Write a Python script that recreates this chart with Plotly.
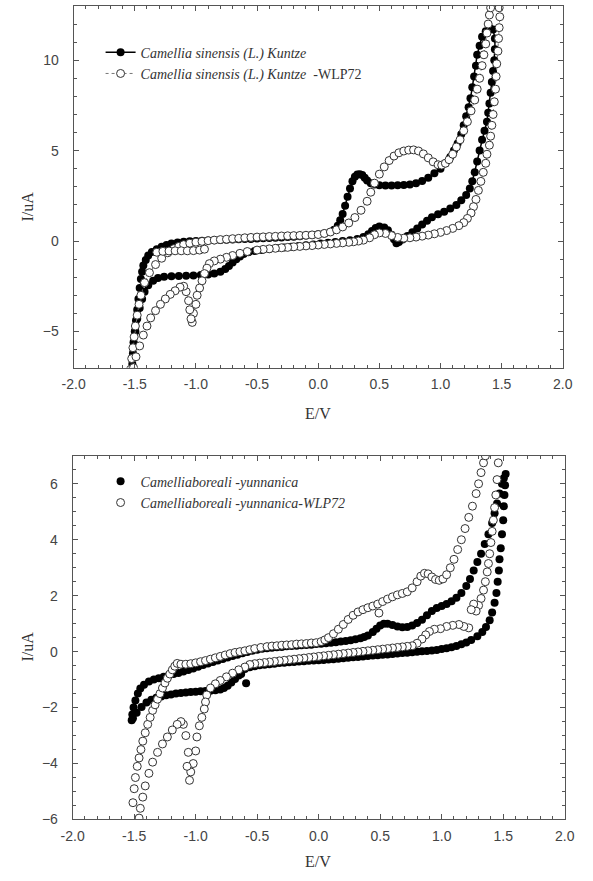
import plotly.graph_objects as go

# ---------------- data: (E/V, I/uA) pairs along each scan ----------------
# Top panel: Camellia sinensis (L.) Kuntze  (filled)
top_a = [(-1.52,-6.8),(-1.515,-6.2),(-1.51,-5.6),(-1.50,-5.0),(-1.49,-4.4),(-1.48,-3.8),(-1.47,-3.2),(-1.46,-2.6),
         (-1.45,-2.1),(-1.44,-1.7),(-1.43,-1.35),(-1.41,-1.05),(-1.39,-0.8),(-1.36,-0.6),(-1.32,-0.45),(-1.28,-0.32),
         (-1.24,-0.22),(-1.2,-0.14),(-1.15,-0.08),(-1.1,-0.04),(-1.05,-0.01),(-1.0,0.0),(-0.95,0.02),(-0.9,0.03),
         (-0.85,0.05),(-0.8,0.06),(-0.75,0.07),(-0.7,0.09),(-0.65,0.1),(-0.6,0.11),(-0.55,0.12),(-0.5,0.14),
         (-0.45,0.15),(-0.4,0.17),(-0.35,0.18),(-0.3,0.2),(-0.25,0.22),(-0.2,0.24),(-0.15,0.27),(-0.1,0.3),
         (-0.05,0.33),(0.0,0.37),(0.05,0.42),(0.1,0.5),(0.13,0.62),(0.16,0.85),(0.18,1.15),(0.2,1.5),(0.22,1.95),
         (0.24,2.45),(0.26,2.9),(0.28,3.3),(0.3,3.55),(0.32,3.68),(0.34,3.7),(0.36,3.65),(0.38,3.5),(0.4,3.35),
         (0.43,3.2),(0.46,3.12),(0.5,3.08),(0.55,3.07),(0.6,3.07),(0.65,3.08),(0.7,3.1),(0.75,3.13),(0.8,3.2),
         (0.85,3.32),(0.9,3.5),(0.95,3.75),(1.0,4.0),(1.04,4.3),(1.08,4.65),(1.11,5.0),(1.14,5.4),(1.17,5.9),
         (1.19,6.4),(1.21,6.9),(1.23,7.4),(1.245,7.9),(1.26,8.5),(1.275,9.1),(1.29,9.7),(1.3,10.3),(1.32,10.8),
         (1.34,11.3),(1.37,11.6),(1.40,11.8),
         (1.43,11.7),(1.445,11.2),(1.445,10.6),(1.44,10.0),(1.43,9.4),(1.42,8.8),(1.41,8.2),(1.40,7.6),(1.39,7.1),
         (1.38,6.6),(1.36,6.1),(1.34,5.6),(1.32,5.0),(1.30,4.4),(1.28,3.8),(1.26,3.3),(1.24,2.9),(1.21,2.55),
         (1.17,2.25),(1.13,2.0),(1.08,1.8),(1.03,1.62),(0.98,1.48),(0.93,1.32),(0.89,1.12),(0.85,0.92),(0.81,0.7),
         (0.77,0.48),(0.73,0.28),(0.69,0.08),(0.66,-0.05),(0.64,-0.12),(0.62,0.1),(0.6,0.35),(0.57,0.6),(0.54,0.75),
         (0.5,0.8),(0.47,0.72),(0.44,0.55),(0.41,0.38),(0.37,0.22),(0.32,0.12),(0.26,0.05),(0.2,0.0),(0.14,-0.05),
         (0.08,-0.1),(0.02,-0.14),(-0.04,-0.19),(-0.1,-0.23),(-0.16,-0.27),(-0.22,-0.31),(-0.28,-0.35),(-0.34,-0.39),
         (-0.4,-0.44),(-0.46,-0.49),(-0.52,-0.55),(-0.57,-0.62),(-0.61,-0.72),(-0.64,-0.85),(-0.67,-1.0),(-0.7,-1.18),
         (-0.73,-1.38),(-0.76,-1.55),(-0.8,-1.7),(-0.85,-1.8),(-0.9,-1.85),(-0.96,-1.88),(-1.02,-1.9),(-1.08,-1.92),
         (-1.14,-1.93),(-1.2,-1.95),(-1.26,-1.98),(-1.31,-2.05),(-1.35,-2.2),(-1.39,-2.45),(-1.42,-2.8),(-1.44,-3.2),
         (-1.46,-3.7),(-1.48,-4.3),(-1.495,-5.0),(-1.505,-5.7),(-1.515,-6.4),(-1.525,-7.1)]

# Top panel: Camellia sinensis (L.) Kuntze -WLP72 (open); None breaks the dotted line
top_b = [(-1.535,-7.1),(-1.525,-6.5),(-1.515,-5.9),(-1.505,-5.3),(-1.495,-4.7),(-1.48,-4.1),(-1.465,-3.5),(-1.45,-3.0),
         (-1.42,-2.3),(-1.38,-1.75),(-1.33,-1.3),(-1.28,-0.95),(-1.23,-0.65),(-1.18,-0.42),(-1.14,-0.3),(-1.1,-0.2),
         (-1.05,-0.12),(-1.0,-0.06),(-0.95,-0.02),(-0.9,0.02),(-0.85,0.05),(-0.8,0.08),(-0.75,0.1),(-0.7,0.13),
         (-0.65,0.15),(-0.6,0.18),(-0.55,0.2),(-0.5,0.22),(-0.45,0.23),(-0.4,0.25),(-0.35,0.26),(-0.3,0.28),
         (-0.25,0.29),(-0.2,0.3),(-0.15,0.31),(-0.1,0.32),(-0.05,0.34),(0.0,0.36),(0.05,0.42),(0.1,0.5),(0.15,0.62),
         (0.2,0.78),(0.25,1.0),(0.3,1.3),(0.35,1.7),(0.4,2.2),(0.43,2.7),(0.46,3.2),(0.5,3.7),(0.54,4.1),(0.58,4.45),
         (0.62,4.7),(0.66,4.88),(0.7,4.98),(0.74,5.03),(0.78,5.04),(0.82,4.98),(0.86,4.82),(0.9,4.6),(0.94,4.38),
         (0.98,4.22),(1.01,4.2),(1.04,4.3),(1.07,4.5),(1.1,4.8),(1.13,5.2),(1.16,5.6),(1.19,6.1),(1.22,6.6),(1.25,7.2),
         (1.28,7.8),(1.3,8.4),(1.32,9.0),(1.34,9.7),(1.355,10.3),(1.37,10.9),(1.38,11.5),(1.39,12.0),(1.4,12.5),(1.41,12.9),
         (1.48,12.9),(1.485,12.4),(1.48,11.8),(1.475,11.2),(1.47,10.5),(1.46,9.8),(1.455,9.1),(1.45,8.4),(1.44,7.7),
         (1.43,7.0),(1.42,6.4),(1.41,5.8),(1.40,5.3),(1.38,4.8),(1.37,4.3),(1.35,3.8),(1.33,3.3),(1.31,2.8),(1.29,2.3),
         (1.27,1.9),(1.25,1.55),(1.22,1.25),(1.19,1.02),(1.15,0.85),(1.1,0.7),(1.05,0.58),(1.0,0.48),(0.95,0.4),
         (0.9,0.33),(0.85,0.27),(0.8,0.22),(0.75,0.18),(0.7,0.16),(0.65,0.2),(0.6,0.3),(0.55,0.42),(0.5,0.45),
         (0.46,0.35),(0.42,0.18),(0.37,0.05),(0.33,0.0),(0.29,-0.04),(0.25,-0.07),(0.2,-0.1),(0.15,-0.13),(0.1,-0.16),
         (0.05,-0.19),(0.0,-0.22),(-0.05,-0.25),(-0.1,-0.27),(-0.15,-0.3),(-0.2,-0.32),(-0.25,-0.35),(-0.3,-0.37),
         (-0.35,-0.4),(-0.4,-0.43),(-0.45,-0.46),(-0.5,-0.5),(-0.58,-0.58),(-0.64,-0.68),(-0.7,-0.8),(-0.75,-0.9),
         (-0.8,-1.0),(-0.85,-1.1),(-0.89,-1.25),(-0.91,-1.5),(-0.93,-1.8),(-0.95,-2.2),(-0.97,-2.6),(-0.99,-3.0),
         (-1.0,-3.5),(-1.02,-4.0),(-1.03,-4.5),(-1.04,-4.3),(-1.05,-3.8),(-1.06,-3.3),(-1.08,-2.8),(-1.1,-2.5),
         (-1.13,-2.55),(-1.17,-2.75),(-1.21,-2.95),(-1.25,-3.2),(-1.29,-3.5),(-1.33,-3.85),(-1.37,-4.25),(-1.4,-4.7),
         (-1.43,-5.2),(-1.46,-5.8),(-1.49,-6.4),(-1.51,-7.0),
         (None,None),(-1.32,-0.62),(-1.27,-0.57),(-1.22,-0.55),(-1.17,-0.54),(-1.12,-0.54),(-1.07,-0.54),(-1.02,-0.53),
         (-0.97,-0.5),(-0.93,-0.45)]

# Bottom panel: Camelliaboreali -yunnanica (filled)
bot_c = [(-1.52,-2.45),(-1.515,-2.25),(-1.505,-2.0),(-1.49,-1.75),(-1.47,-1.5),(-1.45,-1.32),(-1.42,-1.18),(-1.38,-1.07),
         (-1.34,-1.0),(-1.3,-0.95),(-1.26,-0.9),(-1.22,-0.85),(-1.18,-0.8),(-1.14,-0.76),(-1.1,-0.71),(-1.06,-0.66),
         (-1.02,-0.6),(-0.98,-0.54),(-0.94,-0.48),(-0.9,-0.42),(-0.86,-0.37),(-0.82,-0.32),(-0.78,-0.26),(-0.74,-0.21),
         (-0.7,-0.16),(-0.66,-0.11),(-0.62,-0.06),(-0.58,-0.01),(-0.54,0.03),(-0.5,0.07),(-0.46,0.1),(-0.42,0.12),
         (-0.38,0.14),(-0.34,0.16),(-0.3,0.17),(-0.26,0.19),(-0.22,0.2),(-0.18,0.21),(-0.14,0.23),(-0.1,0.24),
         (-0.06,0.25),(-0.02,0.27),(0.02,0.28),(0.06,0.3),(0.1,0.32),(0.14,0.34),(0.18,0.36),(0.22,0.38),(0.26,0.41),
         (0.3,0.44),(0.34,0.48),(0.37,0.52),(0.4,0.58),(0.44,0.7),(0.47,0.82),(0.5,0.93),(0.53,1.0),(0.56,1.0),
         (0.6,0.95),(0.64,0.9),(0.68,0.87),(0.72,0.88),(0.76,0.93),(0.8,1.02),(0.84,1.14),(0.88,1.3),(0.92,1.45),
         (0.96,1.56),(1.0,1.63),(1.04,1.7),(1.08,1.8),(1.12,1.93),(1.16,2.1),(1.2,2.35),(1.23,2.6),(1.26,2.9),
         (1.29,3.2),(1.32,3.5),(1.35,3.85),(1.38,4.2),(1.41,4.6),(1.43,4.95),(1.45,5.3),(1.47,5.65),(1.49,6.0),
         (1.505,6.2),(1.52,6.35),
         (1.515,5.95),(1.51,5.6),(1.505,5.2),(1.5,4.7),(1.49,4.2),(1.48,3.7),(1.47,3.3),(1.465,2.9),(1.455,2.5),
         (1.445,2.1),(1.43,1.75),(1.41,1.4),(1.39,1.12),(1.36,0.88),(1.33,0.7),(1.29,0.55),(1.24,0.42),(1.2,0.33),
         (1.16,0.26),(1.12,0.2),(1.08,0.16),(1.04,0.12),(1.0,0.09),(0.96,0.06),(0.92,0.04),(0.88,0.02),(0.84,0.01),
         (0.8,0.0),(0.76,-0.02),(0.72,-0.04),(0.68,-0.05),(0.64,-0.07),(0.6,-0.08),(0.56,-0.1),(0.52,-0.11),
         (0.48,-0.13),(0.44,-0.14),(0.4,-0.16),(0.36,-0.17),(0.32,-0.19),(0.28,-0.2),(0.24,-0.22),(0.2,-0.24),
         (0.16,-0.25),(0.12,-0.27),(0.08,-0.28),(0.04,-0.3),(0.0,-0.31),(-0.04,-0.32),(-0.08,-0.33),(-0.12,-0.34),
         (-0.16,-0.35),(-0.2,-0.37),(-0.24,-0.38),(-0.28,-0.4),(-0.32,-0.41),(-0.36,-0.43),(-0.4,-0.45),(-0.44,-0.47),
         (-0.48,-0.49),(-0.52,-0.52),(-0.56,-0.56),(-0.6,-0.62),(-0.59,-1.13),(-0.63,-0.8),(-0.65,-0.85),(-0.68,-0.98),
         (-0.71,-1.1),(-0.74,-1.22),(-0.77,-1.3),(-0.8,-1.35),(-0.84,-1.38),(-0.88,-1.4),(-0.92,-1.41),(-0.96,-1.42),
         (-1.0,-1.43),(-1.04,-1.44),(-1.08,-1.46),(-1.12,-1.48),(-1.16,-1.5),(-1.2,-1.53),(-1.24,-1.56),(-1.28,-1.6),
         (-1.32,-1.65),(-1.36,-1.72),(-1.4,-1.82),(-1.44,-1.98),(-1.48,-2.18),(-1.51,-2.38)]

# Bottom panel: Camelliaboreali -yunnanica-WLP72 (open)
bot_d = [(-1.51,-5.4),(-1.5,-4.9),(-1.49,-4.5),(-1.475,-4.1),(-1.46,-3.8),(-1.445,-3.5),(-1.43,-3.2),(-1.41,-2.9),
         (-1.39,-2.6),(-1.37,-2.35),(-1.35,-2.1),(-1.33,-1.9),(-1.31,-1.7),(-1.29,-1.5),(-1.27,-1.3),(-1.25,-1.12),
         (-1.23,-0.95),(-1.21,-0.8),(-1.19,-0.65),(-1.17,-0.52),(-1.15,-0.42),(-1.12,-0.45),(-1.08,-0.45),
         (-1.04,-0.43),(-1.0,-0.4),(-0.96,-0.36),(-0.92,-0.32),(-0.88,-0.27),(-0.84,-0.22),(-0.8,-0.17),(-0.76,-0.12),
         (-0.72,-0.07),(-0.68,-0.03),(-0.64,0.0),(-0.6,0.03),(-0.56,0.07),(-0.52,0.11),(-0.47,0.15),(-0.42,0.18),
         (-0.38,0.2),(-0.34,0.21),(-0.3,0.23),(-0.26,0.24),(-0.22,0.25),(-0.18,0.27),(-0.14,0.28),(-0.1,0.29),
         (-0.06,0.31),(-0.02,0.32),(0.02,0.36),(0.05,0.42),(0.08,0.5),(0.12,0.64),(0.16,0.8),(0.2,0.97),(0.24,1.15),
         (0.28,1.3),(0.32,1.42),(0.36,1.5),(0.4,1.57),(0.44,1.63),(0.48,1.7),(0.52,1.79),(0.56,1.88),(0.6,1.96),
         (0.64,2.03),(0.68,2.08),(0.72,2.14),(0.76,2.28),(0.8,2.5),(0.83,2.7),(0.86,2.8),(0.89,2.78),(0.92,2.67),
         (0.95,2.58),(0.98,2.55),(1.01,2.6),(1.04,2.75),(1.07,3.0),(1.1,3.3),(1.13,3.65),(1.16,4.0),(1.19,4.4),
         (1.22,4.8),(1.25,5.2),(1.28,5.65),(1.3,6.0),(1.32,6.4),(1.34,6.75),(1.355,7.0),
         (1.46,6.75),(1.45,6.15),(1.44,5.6),(1.43,5.15),(1.42,4.7),(1.41,4.3),(1.4,3.9),(1.39,3.5),(1.38,3.15),
         (1.37,2.85),(1.355,2.5),(1.34,2.2),(1.32,1.9),(1.3,1.65),(1.28,1.45),(1.26,1.7),(1.24,1.5),(1.22,0.85),
         (1.18,0.9),(1.14,0.97),(1.09,0.94),(1.04,0.9),(0.99,0.82),(0.94,0.8),(0.9,0.72),(0.87,0.6),(0.84,0.45),
         (0.8,0.3),(0.76,0.21),(0.72,0.19),(0.68,0.17),(0.64,0.15),(0.6,0.13),(0.56,0.11),(0.52,0.09),(0.48,0.07),
         (0.44,0.05),(0.4,0.03),(0.36,0.01),(0.32,-0.01),(0.28,-0.03),(0.24,-0.05),(0.2,-0.07),(0.16,-0.09),
         (0.12,-0.11),(0.08,-0.13),(0.04,-0.15),(0.0,-0.17),(-0.04,-0.19),(-0.08,-0.21),(-0.12,-0.23),(-0.16,-0.25),
         (-0.2,-0.27),(-0.24,-0.29),(-0.28,-0.31),(-0.32,-0.33),(-0.36,-0.35),(-0.4,-0.37),(-0.44,-0.39),(-0.48,-0.41),
         (-0.52,-0.43),(-0.56,-0.46),(-0.6,-0.55),(-0.65,-0.65),(-0.7,-0.77),(-0.75,-0.9),(-0.8,-1.03),(-0.84,-1.15),
         (-0.88,-1.3),(-0.91,-1.55),(-0.92,-1.8),(-0.93,-2.05),(-0.95,-2.35),(-0.97,-2.65),(-0.99,-3.05),(-1.0,-3.55),
         (-1.02,-4.0),(-1.04,-4.3),(-1.05,-4.6),(-1.07,-4.1),(-1.06,-3.6),(-1.08,-3.0),(-1.1,-2.6),(-1.12,-2.5),
         (-1.15,-2.6),(-1.19,-2.8),(-1.23,-3.05),(-1.27,-3.3),(-1.31,-3.6),(-1.35,-3.95),(-1.38,-4.35),(-1.41,-4.8),
         (-1.43,-5.2),(-1.45,-5.6),(-1.46,-5.95),(0.49,1.38)]

x_ticks = [-2.0, -1.5, -1.0, -0.5, 0.0, 0.5, 1.0, 1.5, 2.0]
x_tick_text = ["-2.0", "-1.5", "-1.0", "-0.5", "0.0", "0.5", "1.0", "1.5", "2.0"]

name_a = "<i>Camellia sinensis (L.) Kuntze</i>"
name_b = "<i>Camellia sinensis (L.) Kuntze</i>  -WLP72"
name_c = "<i>Camelliaboreali -yunnanica</i>"
name_d = "<i>Camelliaboreali -yunnanica-WLP72</i>"


def xs(pts):
    return [p[0] for p in pts]


def ys(pts):
    return [p[1] for p in pts]


# ---------------- figure ----------------
W, H = 593, 881
fig = go.Figure()

filled = dict(symbol="circle", size=8, color="black")
opened = dict(symbol="circle", size=8, color="white", line=dict(color="#333", width=1))

fig.add_trace(go.Scatter(x=xs(top_a), y=ys(top_a), name=name_a, mode="lines+markers",
                         line=dict(color="black", width=1.5), marker=filled,
                         xaxis="x", yaxis="y", legend="legend"))
fig.add_trace(go.Scatter(x=xs(top_b), y=ys(top_b), name=name_b, mode="lines+markers",
                         line=dict(color="#777", width=1, dash="dot"), marker=opened,
                         xaxis="x", yaxis="y", legend="legend"))
fig.add_trace(go.Scatter(x=xs(bot_c), y=ys(bot_c), name=name_c, mode="markers", marker=filled,
                         xaxis="x2", yaxis="y2", legend="legend2"))
fig.add_trace(go.Scatter(x=xs(bot_d), y=ys(bot_d), name=name_d, mode="markers", marker=opened,
                         xaxis="x2", yaxis="y2", legend="legend2"))

tickfont = dict(family="Liberation Sans, Arial, sans-serif", size=14, color="#444")
axcommon = dict(showline=True, linecolor="#555", linewidth=1, mirror="allticks",
                ticks="inside", ticklen=5, tickwidth=1, tickcolor="#555",
                showgrid=False, zeroline=False, tickfont=tickfont)


def pc_y(py):
    return 1 - py / H


xminor = dict(ticks="inside", ticklen=3, dtick=0.1, tick0=0, tickcolor="#555", showgrid=False)

fig.update_layout(
    width=W, height=H, margin=dict(l=0, r=0, t=0, b=0),
    paper_bgcolor="white", plot_bgcolor="white",
    xaxis=dict(domain=[64 / W, 572 / W], range=[-2, 2], anchor="y",
               tickvals=x_ticks, ticktext=x_tick_text, ticklabelstandoff=4,
               minor=xminor, **axcommon),
    yaxis=dict(domain=[pc_y(371), pc_y(6)], range=[-7, 13], anchor="x",
               dtick=5, tick0=0, ticklabelstandoff=11,
               minor=dict(ticks="inside", ticklen=3, dtick=1, tick0=0, tickcolor="#555", showgrid=False),
               **axcommon),
    xaxis2=dict(domain=[63 / W, 574 / W], range=[-2, 2], anchor="y2",
                tickvals=x_ticks, ticktext=x_tick_text, ticklabelstandoff=4,
                minor=xminor, **axcommon),
    yaxis2=dict(domain=[pc_y(827), pc_y(460)], range=[-6, 7], anchor="x2",
                dtick=2, tick0=0, ticklabelstandoff=11,
                minor=dict(ticks="inside", ticklen=3, dtick=0.5, tick0=0, tickcolor="#555", showgrid=False),
                **axcommon),
    legend=dict(x=92 / W, y=pc_y(37), xanchor="left", yanchor="top",
                bgcolor="rgba(0,0,0,0)", borderwidth=0,
                font=dict(family="Liberation Serif, Times New Roman, serif", size=14, color="#333"),
                tracegroupgap=0, itemwidth=30),
    legend2=dict(x=92 / W, y=pc_y(470), xanchor="left", yanchor="top",
                 bgcolor="rgba(0,0,0,0)", borderwidth=0,
                 font=dict(family="Liberation Serif, Times New Roman, serif", size=14, color="#333"),
                 tracegroupgap=0, itemwidth=30),
    showlegend=True,
)

titlefont = dict(family="Liberation Serif, Times New Roman, serif", size=16, color="#333")
for txt, x, y, ang in [("E/V", 318, 417, 0), ("I/uA", 16, 208, -90),
                       ("E/V", 318, 869, 0), ("I/uA", 16, 652, -90)]:
    fig.add_annotation(text=txt, x=x / W, y=pc_y(y), xref="paper", yref="paper",
                       showarrow=False, textangle=ang, font=titlefont,
                       xanchor="center", yanchor="middle")

fig.write_html("out.html")
